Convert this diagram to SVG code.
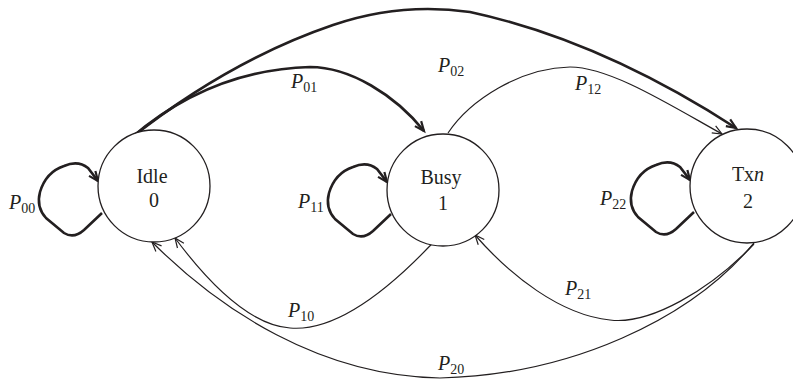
<svg xmlns="http://www.w3.org/2000/svg" width="793" height="380" viewBox="0 0 793 380">
<defs>
<style>
.node{fill:#fff;stroke:#231f20;stroke-width:1.3}
.lbl{font-family:"Liberation Serif",serif;font-size:20px;fill:#231f20;text-anchor:middle}
.pl{font-family:"Liberation Serif",serif;font-size:20px;fill:#231f20}
.pl .p{font-style:italic}
.pl .s{font-size:14px}
.thin{fill:none;stroke:#231f20;stroke-width:1.2;marker-end:url(#arr)}
.thick{fill:none;stroke:#231f20;stroke-width:2.6;marker-end:url(#arrb)}
</style>
<marker id="arr" markerUnits="userSpaceOnUse" markerWidth="14" markerHeight="12" refX="10" refY="4" orient="auto" overflow="visible">
<path d="M0.5,0 L10,4 L0.5,8" fill="none" stroke="#231f20" stroke-width="1.2"/>
</marker>
<marker id="arrb" markerUnits="userSpaceOnUse" markerWidth="14" markerHeight="12" refX="10" refY="4" orient="auto" overflow="visible">
<path d="M0.5,0 L10,4 L0.5,8" fill="none" stroke="#231f20" stroke-width="2.2"/>
</marker>
<path id="loop" d="M102,213 L84,230 Q74,239 64,233 L46,218 Q36,207 40,192 Q46,172 64,166 Q78,160 88,168 L98,181"/>
</defs>

<g id="connectors">
<path class="thick" d="M131,138 Q230,60 333,25 Q400,2 470,12 Q600,40 736,128"/>
<path class="thick" d="M151,131 L131,138 Q210,70 310,67 C350,67 395,95 424,131"/>
<path class="thin" d="M448,133 C470,100 520,68 570,67 C610,67 670,105 722,134"/>
<path class="thin" d="M442,233 C390,290 335,332 290,328 C250,325 210,285 175,238"/>
<path class="thin" d="M754,243 C690,320 570,375 440,378 C320,376 220,310 152,242"/>
<path class="thin" d="M754,244 C710,290 650,325 610,320 C560,315 510,275 475,235"/>
<use href="#loop" class="thick"/>
<use href="#loop" class="thick" transform="translate(289,1)"/>
<use href="#loop" class="thick" transform="translate(592,-1)"/>
</g>

<g id="idle">
<circle class="node" cx="154" cy="186" r="56"/>
<text class="lbl" x="152" y="183">Idle</text>
<text class="lbl" x="154" y="207">0</text>
</g>
<g id="busy">
<circle class="node" cx="443" cy="190" r="56"/>
<text class="lbl" x="441" y="184">Busy</text>
<text class="lbl" x="443" y="210">1</text>
</g>
<g id="txn">
<circle class="node" cx="747" cy="186" r="57"/>
<text class="lbl" x="748" y="181">Tx<tspan font-style="italic">n</tspan></text>
<text class="lbl" x="748" y="208">2</text>
</g>

<g id="labels">
<text class="pl" x="9" y="209"><tspan class="p">P</tspan><tspan class="s" dy="4">00</tspan></text>
<text class="pl" x="298" y="208"><tspan class="p">P</tspan><tspan class="s" dy="4">11</tspan></text>
<text class="pl" x="600" y="205"><tspan class="p">P</tspan><tspan class="s" dy="4">22</tspan></text>
<text class="pl" x="291" y="88"><tspan class="p">P</tspan><tspan class="s" dy="4">01</tspan></text>
<text class="pl" x="438" y="72"><tspan class="p">P</tspan><tspan class="s" dy="4">02</tspan></text>
<text class="pl" x="575" y="90"><tspan class="p">P</tspan><tspan class="s" dy="4">12</tspan></text>
<text class="pl" x="288" y="317"><tspan class="p">P</tspan><tspan class="s" dy="4">10</tspan></text>
<text class="pl" x="565" y="295"><tspan class="p">P</tspan><tspan class="s" dy="4">21</tspan></text>
<text class="pl" x="438" y="370"><tspan class="p">P</tspan><tspan class="s" dy="4">20</tspan></text>
</g>
</svg>
